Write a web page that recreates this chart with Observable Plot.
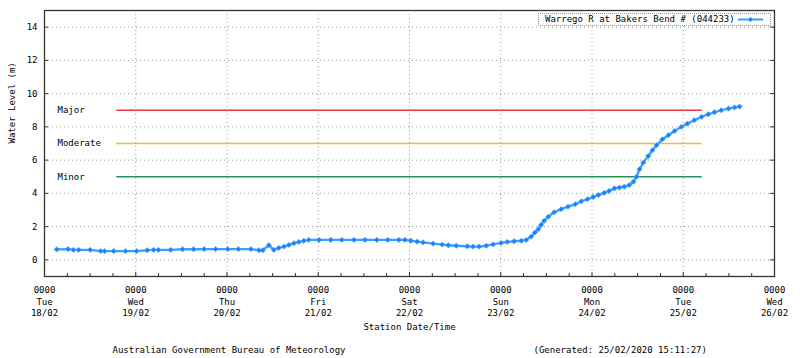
<!DOCTYPE html>
<html><head><meta charset="utf-8">
<script src="https://cdn.jsdelivr.net/npm/d3@7"></script>
<script src="https://cdn.jsdelivr.net/npm/@observablehq/plot@0.6"></script>
<style>
body{margin:0;background:#fff;}
#wrap{position:relative;width:800px;height:358px;font-family:"DejaVu Sans Mono",monospace;font-size:9px;color:#000;}
#legend{position:absolute;left:538px;top:13px;width:231px;height:11px;border:1px dotted #999;background:#fff;}
#legend span{position:absolute;left:6px;top:0px;line-height:11px;white-space:nowrap;}
#legend svg{position:absolute;left:198px;top:0;}
</style></head><body><div id="wrap"></div><script>
// ---- data ----
const times = [
"2020-02-18T03:12Z","2020-02-18T06:12Z","2020-02-18T07:36Z","2020-02-18T09:00Z","2020-02-18T12:00Z",
"2020-02-18T14:48Z","2020-02-18T15:48Z","2020-02-18T18:12Z","2020-02-18T21:18Z","2020-02-19T00:12Z",
"2020-02-19T03:00Z","2020-02-19T04:42Z","2020-02-19T06:00Z","2020-02-19T09:12Z","2020-02-19T12:18Z",
"2020-02-19T15:12Z","2020-02-19T18:00Z","2020-02-19T21:00Z","2020-02-20T00:12Z","2020-02-20T03:00Z",
"2020-02-20T06:18Z","2020-02-20T08:24Z","2020-02-20T09:24Z","2020-02-20T11:00Z","2020-02-20T12:18Z",
"2020-02-20T13:36Z","2020-02-20T15:00Z","2020-02-20T16:18Z","2020-02-20T17:36Z","2020-02-20T18:54Z",
"2020-02-20T20:12Z","2020-02-20T21:30Z","2020-02-21T00:12Z","2020-02-21T03:18Z","2020-02-21T06:12Z",
"2020-02-21T09:24Z","2020-02-21T12:18Z","2020-02-21T15:24Z","2020-02-21T18:18Z","2020-02-21T21:12Z",
"2020-02-21T22:48Z","2020-02-22T00:24Z","2020-02-22T02:00Z","2020-02-22T03:36Z","2020-02-22T06:12Z",
"2020-02-22T08:36Z","2020-02-22T10:12Z","2020-02-22T12:18Z","2020-02-22T15:12Z","2020-02-22T16:42Z",
"2020-02-22T18:18Z","2020-02-22T20:12Z","2020-02-22T22:00Z","2020-02-23T00:06Z","2020-02-23T01:42Z",
"2020-02-23T03:30Z","2020-02-23T05:24Z","2020-02-23T06:42Z","2020-02-23T08:00Z","2020-02-23T09:00Z",
"2020-02-23T09:54Z","2020-02-23T10:36Z","2020-02-23T11:24Z","2020-02-23T12:30Z","2020-02-23T14:00Z",
"2020-02-23T15:54Z","2020-02-23T17:42Z","2020-02-23T19:36Z","2020-02-23T21:12Z","2020-02-23T22:48Z",
"2020-02-24T00:18Z","2020-02-24T01:42Z","2020-02-24T03:12Z","2020-02-24T04:30Z","2020-02-24T05:54Z",
"2020-02-24T07:12Z","2020-02-24T08:30Z","2020-02-24T09:48Z","2020-02-24T10:54Z","2020-02-24T11:42Z",
"2020-02-24T12:30Z","2020-02-24T13:30Z","2020-02-24T14:48Z","2020-02-24T15:54Z","2020-02-24T17:00Z",
"2020-02-24T18:30Z","2020-02-24T20:06Z","2020-02-24T21:42Z","2020-02-24T23:30Z","2020-02-25T01:06Z",
"2020-02-25T02:54Z","2020-02-25T04:48Z","2020-02-25T06:36Z","2020-02-25T08:12Z","2020-02-25T10:00Z",
"2020-02-25T11:54Z","2020-02-25T13:30Z","2020-02-25T14:48Z"
];
const levels = [
0.63,0.65,0.60,0.60,0.60,
0.53,0.53,0.53,0.53,0.53,
0.58,0.60,0.60,0.60,0.64,
0.64,0.65,0.65,0.65,0.65,
0.65,0.58,0.58,0.88,0.60,
0.72,0.80,0.90,1.00,1.08,
1.15,1.20,1.20,1.20,1.20,
1.20,1.20,1.20,1.20,1.20,
1.20,1.15,1.10,1.05,0.98,
0.92,0.88,0.85,0.82,0.80,
0.80,0.85,0.93,1.02,1.08,
1.12,1.15,1.20,1.40,1.65,
1.85,2.10,2.35,2.60,2.86,
3.05,3.20,3.35,3.52,3.65,
3.78,3.90,4.03,4.15,4.30,
4.35,4.40,4.50,4.70,5.00,
5.45,5.85,6.25,6.60,6.90,
7.25,7.50,7.75,8.00,8.20,
8.40,8.60,8.76,8.88,9.00,
9.10,9.17,9.22
];
const floodNames = ["Major","Moderate","Minor"];
const floodLevels = [9,7,5];
const floodColors = ["#e8383d","#f2b935","#23925a"];
const floodStart = "2020-02-18T19:00Z";
const floodEnd = "2020-02-25T05:00Z";
const dayTicks = ["2020-02-18T00:00Z","2020-02-19T00:00Z","2020-02-20T00:00Z","2020-02-21T00:00Z",
  "2020-02-22T00:00Z","2020-02-23T00:00Z","2020-02-24T00:00Z","2020-02-25T00:00Z","2020-02-26T00:00Z"];
const yTicks = [0,2,4,6,8,10,12,14];
const yDomain = [-1,15];
const seriesName = "Warrego R at Bakers Bend # (044233)";
const xLabel = "Station Date/Time";
const yLabel = "Water Level (m)";
const footerLeft = "Australian Government Bureau of Meteorology";
const footerRight = "(Generated: 25/02/2020 15:11:27)";

// ---- build ----
const W = 800, H = 358, mL = 44, mR = 26, mT = 10, mB = 82;
const pw = W - mL - mR, ph = H - mT - mB;
const data = times.map((t, i) => ({t: new Date(t), v: levels[i]}));
const days = dayTicks.map(d => new Date(d));
const minor = d3.utcHour.every(6).range(days[0], days[days.length - 1]).filter(d => d.getUTCHours() !== 0);
const flood = floodNames.map((n, i) => ({name: n, level: floodLevels[i], color: floodColors[i],
  start: new Date(floodStart), end: new Date(floodEnd), origin: days[0]}));
const wd = ["Sun","Mon","Tue","Wed","Thu","Fri","Sat"];
const p2 = n => String(n).padStart(2, "0");
const fmt = d => `0000\n${wd[d.getUTCDay()]}\n${p2(d.getUTCDate())}/${p2(d.getUTCMonth() + 1)}`;
const gridStyle = {stroke: "#9a9a9a", strokeOpacity: 1, strokeDasharray: "1,3"};

const chart = Plot.plot({
  width: W, height: H, marginLeft: mL, marginRight: mR, marginTop: mT, marginBottom: mB,
  style: {fontFamily: "'DejaVu Sans Mono', monospace", fontSize: "9px", color: "#000", background: "#fff", overflow: "visible"},
  x: {type: "utc", domain: [days[0], days[days.length - 1]]},
  y: {domain: yDomain},
  color: {type: "identity"},
  marks: [
    Plot.gridX(days, gridStyle),
    Plot.gridY(yTicks, gridStyle),
    Plot.ruleY(flood, {y: "level", x1: "start", x2: "end", stroke: "color", strokeWidth: 1.4}),
    Plot.text(flood, {x: "origin", y: "level", text: "name", textAnchor: "start", dx: 13, fill: "#000"}),
    Plot.line(data, {x: "t", y: "v", stroke: "#3c9cff", strokeWidth: 2.3}),
    Plot.dot(data, {x: "t", y: "v", symbol: "diamond2", r: 2.4, fill: "#1a82ff", stroke: "#5aaaff", strokeWidth: 0.6}),
    Plot.tickX(days, {x: d => d, insetTop: ph - 4, stroke: "#333"}),
    Plot.tickX(minor, {x: d => d, insetTop: ph - 3, stroke: "#333"}),
    Plot.tickY(yTicks, {y: d => d, insetRight: pw - 4, stroke: "#333"}),
    Plot.tickY(yTicks, {y: d => d, insetLeft: pw - 4, stroke: "#333"}),
    Plot.frame({stroke: "#333", strokeWidth: 1.3}),
    Plot.axisX(days, {tickSize: 0, tickPadding: 8, tickFormat: fmt, label: null, lineHeight: 1.3}),
    Plot.axisY(yTicks, {tickSize: 0, tickPadding: 7, label: null}),
    Plot.text([xLabel], {text: d => d, frameAnchor: "bottom", dy: 53}),
    Plot.text([yLabel], {text: d => d, frameAnchor: "left", rotate: -90, dx: -32}),
    Plot.text([footerLeft], {text: d => d, frameAnchor: "bottom-left", textAnchor: "start", dx: 68, dy: 76}),
    Plot.text([footerRight], {text: d => d, frameAnchor: "bottom-left", textAnchor: "start", dx: 489, dy: 76})
  ]
});
const wrap = document.getElementById("wrap");
wrap.appendChild(chart);
const lg = document.createElement("div");
lg.id = "legend";
lg.innerHTML = `<span></span><svg width="28" height="11"><line x1="1" x2="26" y1="5.5" y2="5.5" stroke="#3c9cff" stroke-width="2"/><path d="M13.5 3 L16 5.5 L13.5 8 L11 5.5Z" fill="#1a82ff"/></svg>`;
lg.querySelector("span").textContent = seriesName;
wrap.appendChild(lg);
</script></body></html>
